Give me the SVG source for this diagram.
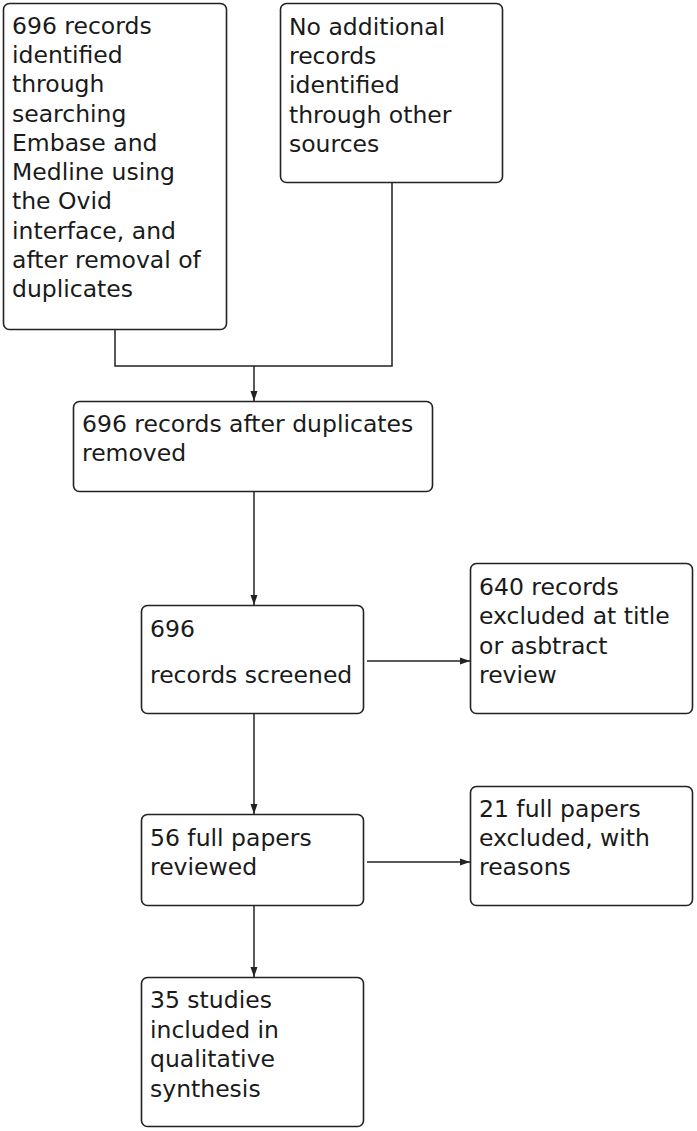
<svg xmlns="http://www.w3.org/2000/svg" width="697" height="1131" viewBox="0 0 697 1131">
<defs>
<style>
.box{fill:#fff;stroke:#222;stroke-width:1.6}
.t{font-family:"DejaVu Sans",Verdana,sans-serif;font-size:23.5px;fill:#1a1a1a}
.c{fill:none;stroke:#222;stroke-width:1.5}
</style>
<marker id="ah" viewBox="0 0 10 8" refX="10" refY="4" markerWidth="10" markerHeight="8" markerUnits="userSpaceOnUse" orient="auto">
<path d="M0,0.5 L10,4 L0,7.5 Z" fill="#222"/>
</marker>
</defs>
<rect width="697" height="1131" fill="#fff"/>
<g id="connectors">
<path class="c" d="M115,330 V366 H392 V183"/>
<path class="c" d="M254,366 V401" marker-end="url(#ah)"/>
<path class="c" d="M254,492 V605" marker-end="url(#ah)"/>
<path class="c" d="M254,714 V814" marker-end="url(#ah)"/>
<path class="c" d="M254,906 V977" marker-end="url(#ah)"/>
<path class="c" d="M367,661 H470" marker-end="url(#ah)"/>
<path class="c" d="M367,862 H470" marker-end="url(#ah)"/>
</g>
<g id="n1">
<rect class="box" x="3.5" y="3.5" width="223" height="326" rx="6"/>
<text class="t">
<tspan x="12" y="34">696 records</tspan>
<tspan x="12" y="63">identified</tspan>
<tspan x="12" y="92">through</tspan>
<tspan x="12" y="122">searching</tspan>
<tspan x="12" y="151">Embase and</tspan>
<tspan x="12" y="180">Medline using</tspan>
<tspan x="12" y="209">the Ovid</tspan>
<tspan x="12" y="239">interface, and</tspan>
<tspan x="12" y="268">after removal of</tspan>
<tspan x="12" y="297">duplicates</tspan>
</text>
</g>
<g id="n2">
<rect class="box" x="280.5" y="3.5" width="222" height="179" rx="6"/>
<text class="t">
<tspan x="289" y="35">No additional</tspan>
<tspan x="289" y="64">records</tspan>
<tspan x="289" y="93">identified</tspan>
<tspan x="289" y="123">through other</tspan>
<tspan x="289" y="152">sources</tspan>
</text>
</g>
<g id="n3">
<rect class="box" x="73.5" y="401.5" width="359" height="90" rx="6"/>
<text class="t">
<tspan x="82" y="432">696 records after duplicates</tspan>
<tspan x="82" y="461">removed</tspan>
</text>
</g>
<g id="n4">
<rect class="box" x="141.5" y="605.5" width="222" height="108" rx="6"/>
<text class="t">
<tspan x="150" y="637">696</tspan>
<tspan x="150" y="683">records screened</tspan>
</text>
</g>
<g id="n5">
<rect class="box" x="470.5" y="563.5" width="222" height="150" rx="6"/>
<text class="t">
<tspan x="479" y="595">640 records</tspan>
<tspan x="479" y="624">excluded at title</tspan>
<tspan x="479" y="654">or asbtract</tspan>
<tspan x="479" y="683">review</tspan>
</text>
</g>
<g id="n6">
<rect class="box" x="141.5" y="814.5" width="222" height="91" rx="6"/>
<text class="t">
<tspan x="150" y="846">56 full papers</tspan>
<tspan x="150" y="875">reviewed</tspan>
</text>
</g>
<g id="n7">
<rect class="box" x="470.5" y="786.5" width="222" height="119" rx="6"/>
<text class="t">
<tspan x="479" y="817">21 full papers</tspan>
<tspan x="479" y="846">excluded, with</tspan>
<tspan x="479" y="875">reasons</tspan>
</text>
</g>
<g id="n8">
<rect class="box" x="141.5" y="977.5" width="222" height="149" rx="6"/>
<text class="t">
<tspan x="150" y="1008">35 studies</tspan>
<tspan x="150" y="1038">included in</tspan>
<tspan x="150" y="1067">qualitative</tspan>
<tspan x="150" y="1097">synthesis</tspan>
</text>
</g>
</svg>
